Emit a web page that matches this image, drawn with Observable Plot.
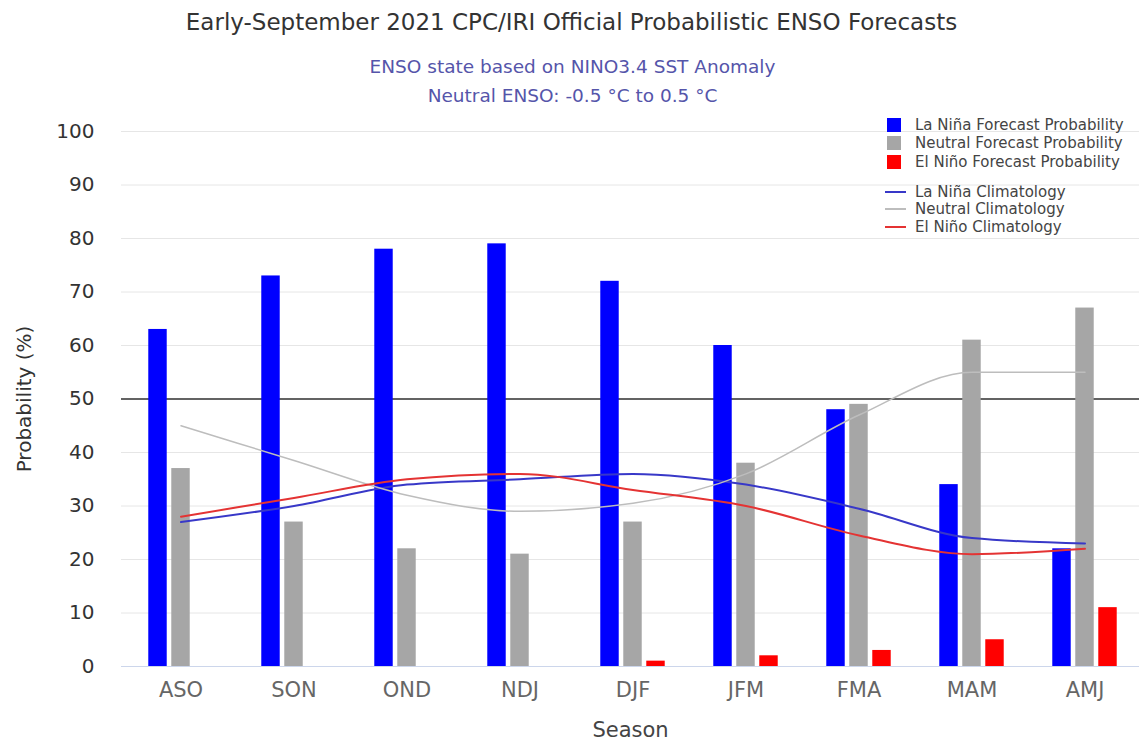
<!DOCTYPE html>
<html>
<head>
<meta charset="utf-8">
<script src="https://cdn.jsdelivr.net/npm/d3@7"></script>
<script src="https://cdn.jsdelivr.net/npm/@observablehq/plot@0.6"></script>
<style>
  body { margin: 0; background: #fff; font-family: "DejaVu Sans", sans-serif; }
  #wrap { position: relative; width: 1139px; height: 743px; overflow: hidden; background: #fff; }
  #head { position: relative; height: 115px; }
  .t { position: absolute; left: 0; width: 1139px; text-align: center; white-space: nowrap; }
  #title { top: 8px; font-size: 23px; line-height: 28px; color: #333; padding-left: 4px; box-sizing: border-box; }
  #sub1 { top: 55px; font-size: 18.5px; line-height: 24px; color: #5555aa; padding-left: 6px; box-sizing: border-box; }
  #sub2 { top: 84px; font-size: 18.5px; line-height: 24px; color: #5555aa; padding-left: 6px; box-sizing: border-box; }
  #legend { position: absolute; left: 0; top: 0; width: 1139px; height: 300px; pointer-events: none; font-size: 15px; color: #444; }
  .row { position: absolute; left: 884px; height: 18px; line-height: 18px; white-space: nowrap; }
  .sw { position: absolute; left: 3px; top: 2px; width: 14px; height: 14px; }
  .ln { position: absolute; left: 1px; top: 8px; width: 21px; height: 2px; }
  .lab { position: absolute; left: 31px; top: 0; }
  svg { display: block; }
</style>
</head>
<body>
<div id="wrap">
  <div id="head">
    <div class="t" id="title"></div>
    <div class="t" id="sub1"></div>
    <div class="t" id="sub2"></div>
  </div>
  <div id="chart"></div>
  <div id="legend"></div>
</div>
<script>
// ---- data ----
const seasons = ["ASO", "SON", "OND", "NDJ", "DJF", "JFM", "FMA", "MAM", "AMJ"];
const laNinaProb  = [63, 73, 78, 79, 72, 60, 48, 34, 22];
const neutralProb = [37, 27, 22, 21, 27, 38, 49, 61, 67];
const elNinoProb  = [0, 0, 0, 0, 1, 2, 3, 5, 11];
const laNinaClim  = [27, 30, 34, 35, 36, 34, 29.5, 24, 23];
const neutralClim = [45, 38.5, 32, 29, 30.5, 36, 47, 55, 55];
const elNinoClim  = [28, 31.5, 35, 36, 33, 30, 24.5, 21, 22];
const yTicks = [0, 10, 20, 30, 40, 50, 60, 70, 80, 90, 100];

const titleText = "Early-September 2021 CPC/IRI Official Probabilistic ENSO Forecasts";
const subtitleLines = ["ENSO state based on NINO3.4 SST Anomaly", "Neutral ENSO: -0.5 °C to 0.5 °C"];
const xLabel = "Season";
const yLabel = "Probability (%)";
const barLegend = ["La Niña Forecast Probability", "Neutral Forecast Probability", "El Niño Forecast Probability"];
const lineLegend = ["La Niña Climatology", "Neutral Climatology", "El Niño Climatology"];

// ---- styles ----
const barColors = ["#0000ff", "#a6a6a6", "#ff0000"];
const lineColors = ["#3838c8", "#bdbdbd", "#e43333"];
const lineWidths = [2, 1.5, 2];

document.getElementById("title").textContent = titleText;
document.getElementById("sub1").textContent = subtitleLines[0];
document.getElementById("sub2").textContent = subtitleLines[1];

const rows = (vals) => seasons.map((s, i) => ({season: s, value: vals[i]}));
const barSeries = [laNinaProb, neutralProb, elNinoProb];
const lineSeries = [laNinaClim, neutralClim, elNinoClim];
const offsets = [-23, 0, 23];

const W = 1139, H = 628;
const band = (1143 - 121) / seasons.length;
const inset = (band - 19) / 2;

const chart = Plot.plot({
  width: W,
  height: H,
  marginLeft: 121,
  marginRight: 0,
  marginTop: 16,
  marginBottom: 77,
  style: {fontFamily: "DejaVu Sans, sans-serif", background: "#fff", overflow: "visible"},
  x: {type: "band", domain: seasons, range: [121, 1143], padding: 0},
  y: {domain: [0, 100]},
  marks: [
    Plot.gridY(yTicks, {stroke: "#e6e6e6", strokeOpacity: 1, strokeWidth: 1}),
    Plot.ruleY([50], {stroke: "#333", strokeWidth: 1.6}),
    ...barSeries.map((vals, k) => Plot.barY(rows(vals), {
      x: "season", y: "value", fill: barColors[k],
      insetLeft: inset, insetRight: inset, dx: offsets[k]
    })),
    ...lineSeries.map((vals, k) => Plot.lineY(rows(vals), {
      x: "season", y: "value", stroke: lineColors[k], strokeWidth: lineWidths[k], curve: "monotone-x"
    })),
    Plot.ruleY([0], {stroke: "#ccd6eb", strokeWidth: 1}),
    Plot.axisY(yTicks, {tickSize: 0, tickPadding: 27, fontSize: 20, fill: "#333", label: null}),
    Plot.axisX({tickSize: 0, tickPadding: 16, fontSize: 21, fill: "#666", label: null}),
    Plot.text([xLabel], {frameAnchor: "bottom", lineAnchor: "middle", textAnchor: "middle", text: d => d, dy: 64, fontSize: 21, fill: "#444"}),
    Plot.text([yLabel], {frameAnchor: "left", lineAnchor: "middle", textAnchor: "middle", text: d => d, rotate: -90, dx: -97, fontSize: 20, fill: "#333"})
  ]
});
document.getElementById("chart").appendChild(chart);

// ---- legend (top right, inside plot area) ----
const legend = document.getElementById("legend");
const barRowTops = [116, 134, 153];
const lineRowTops = [183, 200, 218];
barLegend.forEach((txt, k) => {
  const r = document.createElement("div");
  r.className = "row"; r.style.top = barRowTops[k] + "px";
  r.innerHTML = `<span class="sw" style="background:${barColors[k]}"></span><span class="lab"></span>`;
  r.querySelector(".lab").textContent = txt;
  legend.appendChild(r);
});
lineLegend.forEach((txt, k) => {
  const r = document.createElement("div");
  r.className = "row"; r.style.top = lineRowTops[k] + "px";
  r.innerHTML = `<span class="ln" style="background:${lineColors[k]};height:${lineWidths[k]}px"></span><span class="lab"></span>`;
  r.querySelector(".lab").textContent = txt;
  legend.appendChild(r);
});
</script>
</body>
</html>
